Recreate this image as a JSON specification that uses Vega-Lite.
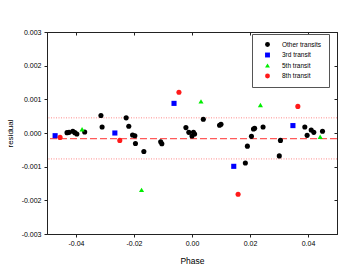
{
  "$schema": "https://vega.github.io/schema/vega-lite/v6.json",
  "autosize": "none",
  "width": 290,
  "height": 202,
  "padding": {"left": 47, "top": 32, "right": 17, "bottom": 34},
  "background": "white",
  "config": {
    "font": "Liberation Sans",
    "view": {"stroke": "#222", "strokeWidth": 1},
    "axis": {"grid": false, "domainColor": "#222", "tickColor": "#222", "labelColor": "black", "titleColor": "black", "labelFont": "Liberation Sans", "titleFont": "Liberation Sans", "labelFontSize": 7, "titleFontSize": 8.5, "titleFontWeight": "normal"}
  },
  "datasets": {
    "pts": [
      {"phase": -0.0431, "res": 0.00001, "group": "Other transits"},
      {"phase": -0.0424, "res": 0.00002, "group": "Other transits"},
      {"phase": -0.0411, "res": 0.00005, "group": "Other transits"},
      {"phase": -0.0404, "res": 0.00001, "group": "Other transits"},
      {"phase": -0.0397, "res": -0.00003, "group": "Other transits"},
      {"phase": -0.0370, "res": 0.00003, "group": "Other transits"},
      {"phase": -0.0314, "res": 0.00052, "group": "Other transits"},
      {"phase": -0.0310, "res": 0.00018, "group": "Other transits"},
      {"phase": -0.0227, "res": 0.00045, "group": "Other transits"},
      {"phase": -0.0218, "res": 0.00020, "group": "Other transits"},
      {"phase": -0.0205, "res": -0.00006, "group": "Other transits"},
      {"phase": -0.0197, "res": -0.00008, "group": "Other transits"},
      {"phase": -0.0195, "res": -0.00031, "group": "Other transits"},
      {"phase": -0.0166, "res": -0.00055, "group": "Other transits"},
      {"phase": -0.0108, "res": -0.00026, "group": "Other transits"},
      {"phase": -0.0104, "res": -0.00032, "group": "Other transits"},
      {"phase": -0.0021, "res": 0.00016, "group": "Other transits"},
      {"phase": -0.0011, "res": 0.00002, "group": "Other transits"},
      {"phase": 0.0005, "res": 0.00002, "group": "Other transits"},
      {"phase": 0.0009, "res": -0.00003, "group": "Other transits"},
      {"phase": 0.0000, "res": -0.00009, "group": "Other transits"},
      {"phase": 0.0039, "res": 0.00041, "group": "Other transits"},
      {"phase": 0.0095, "res": 0.00023, "group": "Other transits"},
      {"phase": 0.0100, "res": 0.00026, "group": "Other transits"},
      {"phase": 0.0184, "res": -0.00089, "group": "Other transits"},
      {"phase": 0.0191, "res": -0.00039, "group": "Other transits"},
      {"phase": 0.0205, "res": -0.00010, "group": "Other transits"},
      {"phase": 0.0212, "res": 0.00012, "group": "Other transits"},
      {"phase": 0.0216, "res": 0.00014, "group": "Other transits"},
      {"phase": 0.0245, "res": 0.00018, "group": "Other transits"},
      {"phase": 0.0301, "res": -0.00068, "group": "Other transits"},
      {"phase": 0.0305, "res": -0.00022, "group": "Other transits"},
      {"phase": 0.0389, "res": 0.00018, "group": "Other transits"},
      {"phase": 0.0397, "res": -0.00007, "group": "Other transits"},
      {"phase": 0.0411, "res": 0.00009, "group": "Other transits"},
      {"phase": 0.0420, "res": 0.00002, "group": "Other transits"},
      {"phase": 0.0450, "res": 0.00005, "group": "Other transits"},
      {"phase": -0.0472, "res": -0.00008, "group": "3rd transit"},
      {"phase": -0.0266, "res": 0.00000, "group": "3rd transit"},
      {"phase": -0.0062, "res": 0.00088, "group": "3rd transit"},
      {"phase": 0.0144, "res": -0.00099, "group": "3rd transit"},
      {"phase": 0.0348, "res": 0.00022, "group": "3rd transit"},
      {"phase": -0.0379, "res": 0.00011, "group": "5th transit"},
      {"phase": -0.0174, "res": -0.00169, "group": "5th transit"},
      {"phase": 0.0031, "res": 0.00094, "group": "5th transit"},
      {"phase": 0.0236, "res": 0.00083, "group": "5th transit"},
      {"phase": 0.0442, "res": -0.00011, "group": "5th transit"},
      {"phase": -0.0455, "res": -0.00013, "group": "8th transit"},
      {"phase": -0.0249, "res": -0.00022, "group": "8th transit"},
      {"phase": -0.0045, "res": 0.00121, "group": "8th transit"},
      {"phase": 0.0159, "res": -0.00182, "group": "8th transit"},
      {"phase": 0.0365, "res": 0.00079, "group": "8th transit"}
    ],
    "lines": [
      {"v": -0.00017, "kind": "mean"},
      {"v": 0.00045, "kind": "band"},
      {"v": -0.00077, "kind": "band"}
    ]
  },
  "layer": [
    {
      "data": {"name": "lines"},
      "transform": [{"filter": "datum.kind === 'band'"}],
      "mark": {"type": "rule", "color": "#ff8a8a", "strokeWidth": 1, "strokeDash": [1, 1.5]},
      "encoding": {
        "y": {"field": "v", "type": "quantitative", "scale": {"domain": [-0.003, 0.003]}, "axis": null}
      }
    },
    {
      "data": {"name": "lines"},
      "transform": [{"filter": "datum.kind === 'mean'"}],
      "mark": {"type": "rule", "color": "#ff5a5a", "strokeWidth": 1.3, "strokeDash": [7, 3]},
      "encoding": {
        "y": {"field": "v", "type": "quantitative", "scale": {"domain": [-0.003, 0.003]}, "axis": null}
      }
    },
    {
      "data": {"name": "pts"},
      "mark": {"type": "point", "filled": true, "opacity": 1, "size": 26},
      "encoding": {
        "x": {"field": "phase", "type": "quantitative", "scale": {"domain": [-0.05, 0.05], "nice": false, "zero": false},
          "axis": {"orient": "bottom", "title": "Phase", "values": [-0.04, -0.02, 0, 0.02, 0.04], "tickSize": 3, "labelPadding": 2, "titlePadding": 10,
            "labelExpr": "(datum.value < -0.000001 ? '-' : '') + format(abs(datum.value), '.2f')"}},
        "y": {"field": "res", "type": "quantitative", "scale": {"domain": [-0.003, 0.003], "nice": false, "zero": false},
          "axis": {"orient": "left", "title": "residual", "values": [-0.003, -0.002, -0.001, 0, 0.001, 0.002, 0.003], "tickSize": 3, "labelPadding": 3, "titlePadding": 7, "titleFontSize": 8,
            "labelExpr": "(datum.value < -0.000001 ? '-' : '') + format(abs(datum.value), '.3f')"}},
        "color": {"field": "group", "type": "nominal",
          "scale": {"domain": ["Other transits", "3rd transit", "5th transit", "8th transit"], "range": ["#000000", "#0000ff", "#00ee00", "#ff1a1a"]},
          "legend": {"title": null, "orient": "none", "legendX": 205, "legendY": 2, "strokeColor": "#555", "fillColor": "white", "padding": 7,
            "labelFontSize": 6.5, "labelFont": "Liberation Sans", "labelColor": "black", "symbolSize": 24, "symbolOffset": 5, "labelOffset": 11, "rowPadding": 3.5}},
        "shape": {"field": "group", "type": "nominal",
          "scale": {"domain": ["Other transits", "3rd transit", "5th transit", "8th transit"], "range": ["circle", "square", "triangle-up", "circle"]},
          "legend": null}
      }
    },
    {
      "data": {"name": "pts"},
      "mark": {"type": "point", "opacity": 0},
      "encoding": {
        "x": {"field": "phase", "type": "quantitative", "scale": {"domain": [-0.05, 0.05], "nice": false, "zero": false},
          "axis": {"orient": "top", "title": null, "labels": false, "values": [-0.04, -0.02, 0, 0.02, 0.04], "tickSize": -3}},
        "y": {"field": "res", "type": "quantitative", "scale": {"domain": [-0.003, 0.003], "nice": false, "zero": false},
          "axis": {"orient": "right", "title": null, "labels": false, "values": [-0.003, -0.002, -0.001, 0, 0.001, 0.002, 0.003], "tickSize": -3}}
      }
    }
  ],
  "resolve": {"axis": {"x": "independent", "y": "independent"}}
}
